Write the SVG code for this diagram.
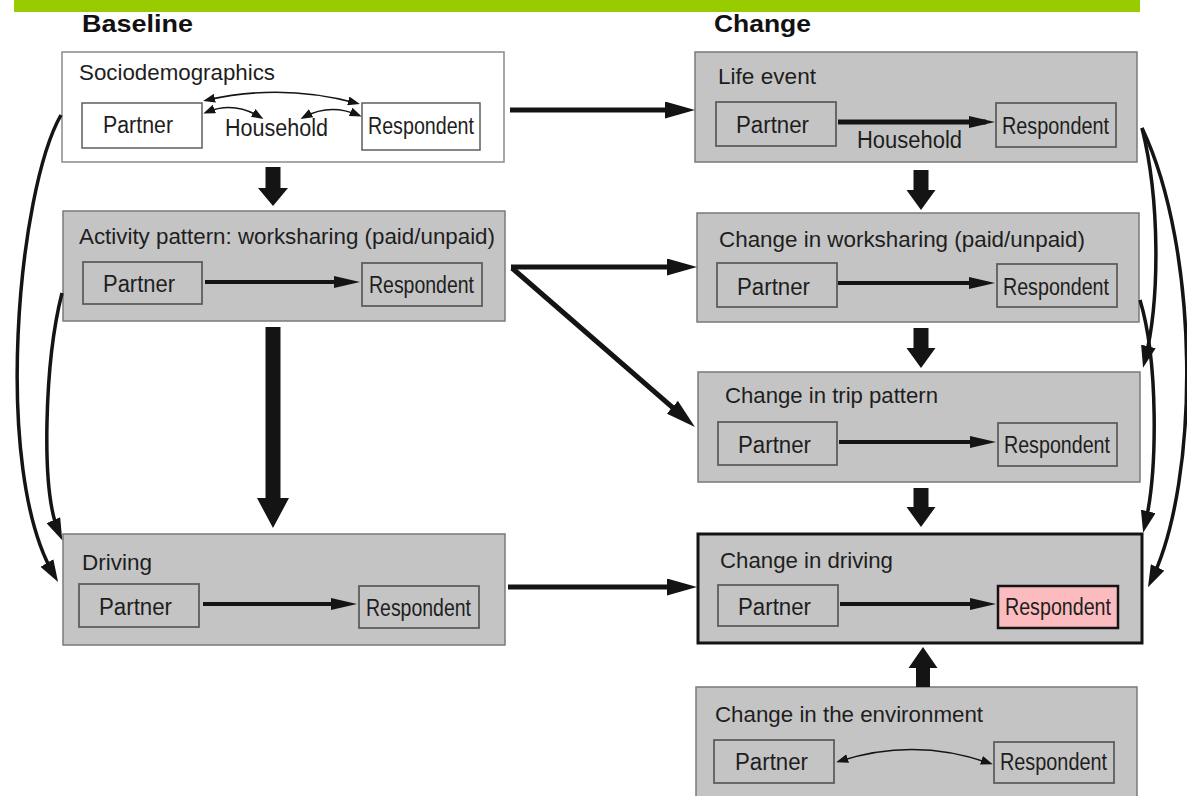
<svg xmlns="http://www.w3.org/2000/svg" width="1187" height="796" viewBox="0 0 1187 796">
  <style>
    text { font-family: "Liberation Sans", Arial, sans-serif; fill: #1e1e1e; }
    .head { font-size: 24px; font-weight: bold; fill: #111; }
    .title { font-size: 22px; }
    .lbl { font-size: 23px; }
    .panel { fill: #c4c4c4; stroke: #7a7a7a; stroke-width: 1.5; }
    .panel-white { fill: #ffffff; stroke: #8a8a8a; stroke-width: 1.5; }
    .panel-key { fill: #c4c4c4; stroke: #141414; stroke-width: 3; }
    .cell { fill: #c4c4c4; stroke: #5e5e5e; stroke-width: 1.8; }
    .cell-white { fill: #ffffff; stroke: #5e5e5e; stroke-width: 1.5; }
    .cell-key { fill: #fcbcbf; stroke: #141414; stroke-width: 2.5; }
    .thick { fill: none; stroke: #141414; stroke-width: 5; marker-end: url(#m-big); }
    .mid { fill: none; stroke: #141414; stroke-width: 4; marker-end: url(#m-mid); }
    .curve { fill: none; stroke: #141414; stroke-width: 3.5; marker-end: url(#m-curve); }
    .thin2 { fill: none; stroke: #141414; stroke-width: 1.6; marker-start: url(#m-small); marker-end: url(#m-small); }
    .block { fill: #141414; }
  </style>
  <defs>
    <marker id="m-big" markerUnits="userSpaceOnUse" markerWidth="30" markerHeight="17" refX="20" refY="8.5" orient="auto">
      <path d="M0,0 L30,8.5 L0,17 z" fill="#141414"/>
    </marker>
    <marker id="m-mid" markerUnits="userSpaceOnUse" markerWidth="26" markerHeight="12" refX="17" refY="6" orient="auto">
      <path d="M0,0 L26,6 L0,12 z" fill="#141414"/>
    </marker>
    <marker id="m-curve" markerUnits="userSpaceOnUse" markerWidth="22" markerHeight="15" refX="14" refY="7.5" orient="auto">
      <path d="M0,0 L22,7.5 L0,15 z" fill="#141414"/>
    </marker>
    <marker id="m-small" markerUnits="userSpaceOnUse" markerWidth="12" markerHeight="9" refX="8" refY="4.5" orient="auto-start-reverse">
      <path d="M0,0 L12,4.5 L0,9 z" fill="#141414"/>
    </marker>
  </defs>

  <rect width="1187" height="796" fill="#ffffff"/>
  <!-- header band -->
  <rect x="14" y="0" width="1126" height="12" fill="#99cc00"/>

  <text class="head" x="82" y="32" textLength="111" lengthAdjust="spacingAndGlyphs">Baseline</text>
  <text class="head" x="714" y="32" textLength="97" lengthAdjust="spacingAndGlyphs">Change</text>

  <!-- Baseline column -->
  <g id="sociodemographics">
    <rect class="panel-white" x="62" y="52" width="442" height="110"/>
    <text class="title" x="79" y="80" textLength="196" lengthAdjust="spacingAndGlyphs">Sociodemographics</text>
    <rect class="cell-white" x="82" y="103" width="120" height="45"/>
    <text class="lbl" x="103" y="133" textLength="70" lengthAdjust="spacingAndGlyphs">Partner</text>
    <rect class="cell-white" x="362" y="103" width="118" height="47"/>
    <text class="lbl" x="368" y="134" textLength="106" lengthAdjust="spacingAndGlyphs">Respondent</text>
    <text class="lbl" x="225" y="136" textLength="103" lengthAdjust="spacingAndGlyphs">Household</text>
    <path class="thin2" d="M207,100 Q282,83 356,103"/>
    <path class="thin2" d="M207,112 Q234,101 260,117"/>
    <path class="thin2" d="M304,117 Q330,103 358,115"/>
  </g>

  <g id="activity-pattern">
    <rect class="panel" x="63" y="211" width="442" height="110"/>
    <text class="title" x="79" y="244" textLength="416" lengthAdjust="spacingAndGlyphs">Activity pattern: worksharing (paid/unpaid)</text>
    <rect class="cell" x="83" y="262" width="119" height="42"/>
    <text class="lbl" x="103" y="292" textLength="72" lengthAdjust="spacingAndGlyphs">Partner</text>
    <rect class="cell" x="362" y="263" width="120" height="43"/>
    <text class="lbl" x="369" y="293" textLength="105" lengthAdjust="spacingAndGlyphs">Respondent</text>
    <path class="mid" d="M205,282 L351,282"/>
  </g>

  <g id="driving">
    <rect class="panel" x="63" y="534" width="442" height="111"/>
    <text class="title" x="82" y="570" textLength="70" lengthAdjust="spacingAndGlyphs">Driving</text>
    <rect class="cell" x="79" y="584" width="120" height="43"/>
    <text class="lbl" x="99" y="615" textLength="73" lengthAdjust="spacingAndGlyphs">Partner</text>
    <rect class="cell" x="359" y="586" width="120" height="42"/>
    <text class="lbl" x="366" y="616" textLength="105" lengthAdjust="spacingAndGlyphs">Respondent</text>
    <path class="mid" d="M203,604 L348,604"/>
  </g>

  <!-- Change column -->
  <g id="life-event">
    <rect class="panel" x="695" y="52" width="442" height="110"/>
    <text class="title" x="718" y="84" textLength="98" lengthAdjust="spacingAndGlyphs">Life event</text>
    <rect class="cell" x="716" y="102" width="120" height="44"/>
    <text class="lbl" x="736" y="133" textLength="73" lengthAdjust="spacingAndGlyphs">Partner</text>
    <rect class="cell" x="996" y="103" width="120" height="44"/>
    <text class="lbl" x="1002" y="134" textLength="107" lengthAdjust="spacingAndGlyphs">Respondent</text>
    <path class="mid" d="M838,122 L986,122" style="stroke-width:5"/>
    <text class="lbl" x="857" y="148" textLength="105" lengthAdjust="spacingAndGlyphs">Household</text>
  </g>

  <g id="change-worksharing">
    <rect class="panel" x="697" y="213" width="442" height="109"/>
    <text class="title" x="719" y="247" textLength="366" lengthAdjust="spacingAndGlyphs">Change in worksharing (paid/unpaid)</text>
    <rect class="cell" x="717" y="263" width="120" height="44"/>
    <text class="lbl" x="737" y="295" textLength="73" lengthAdjust="spacingAndGlyphs">Partner</text>
    <rect class="cell" x="997" y="264" width="120" height="43"/>
    <text class="lbl" x="1003" y="295" textLength="106" lengthAdjust="spacingAndGlyphs">Respondent</text>
    <path class="mid" d="M838,283 L986,283"/>
  </g>

  <g id="change-trip-pattern">
    <rect class="panel" x="698" y="372" width="442" height="110"/>
    <text class="title" x="725" y="403" textLength="213" lengthAdjust="spacingAndGlyphs">Change in trip pattern</text>
    <rect class="cell" x="718" y="422" width="119" height="43"/>
    <text class="lbl" x="738" y="453" textLength="73" lengthAdjust="spacingAndGlyphs">Partner</text>
    <rect class="cell" x="998" y="423" width="119" height="43"/>
    <text class="lbl" x="1004" y="453" textLength="106" lengthAdjust="spacingAndGlyphs">Respondent</text>
    <path class="mid" d="M839,442 L987,442"/>
  </g>

  <g id="change-driving">
    <rect class="panel-key" x="698" y="534" width="444" height="109"/>
    <text class="title" x="720" y="568" textLength="173" lengthAdjust="spacingAndGlyphs">Change in driving</text>
    <rect class="cell" x="718" y="585" width="120" height="41"/>
    <text class="lbl" x="738" y="615" textLength="73" lengthAdjust="spacingAndGlyphs">Partner</text>
    <rect class="cell-key" x="998" y="586" width="120" height="42"/>
    <text class="lbl" x="1005" y="615" textLength="106" lengthAdjust="spacingAndGlyphs">Respondent</text>
    <path class="mid" d="M840,604 L987,604"/>
  </g>

  <g id="change-environment">
    <rect class="panel" x="696" y="687" width="441" height="115"/>
    <text class="title" x="715" y="722" textLength="268" lengthAdjust="spacingAndGlyphs">Change in the environment</text>
    <rect class="cell" x="714" y="740" width="120" height="43"/>
    <text class="lbl" x="735" y="770" textLength="73" lengthAdjust="spacingAndGlyphs">Partner</text>
    <rect class="cell" x="994" y="742" width="120" height="41"/>
    <text class="lbl" x="1000" y="770" textLength="107" lengthAdjust="spacingAndGlyphs">Respondent</text>
    <path class="thin2" d="M840,761 Q915,737 989,763"/>
  </g>

  <!-- connectors between panels -->
  <g id="connectors">
    <!-- block arrows down the columns -->
    <polygon class="block" points="265.5,167 280.5,167 280.5,188 288,188 273,206 258,188 265.5,188"/>
    <polygon class="block" points="265.5,327 280.5,327 280.5,498 289,498 273,528 257,498 265.5,498"/>
    <polygon class="block" points="913.5,170 928.5,170 928.5,190 935.5,190 921,210 906.5,190 913.5,190"/>
    <polygon class="block" points="913.5,328 928.5,328 928.5,348 935.5,348 921,368 906.5,348 913.5,348"/>
    <polygon class="block" points="913.5,488 928.5,488 928.5,507 935.5,507 921,527 906.5,507 913.5,507"/>
    <polygon class="block" points="916,687 930,687 930,668 937.5,668 923,647 908.5,668 916,668"/>

    <!-- baseline to change -->
    <path class="thick" d="M510,110 L685,110"/>
    <path class="thick" d="M511,267 L687,267"/>
    <path class="thick" d="M512,268 L687.4,420.4"/>
    <path class="thick" d="M508,587 L687,587"/>

    <!-- left side curves -->
    <path class="curve" d="M61,115 C18,190 -8,470 54,575"/>
    <path class="curve" d="M62,293 C45,360 40,490 59,533"/>

    <!-- right side curves -->
    <path class="curve" d="M1142,128 C1200,250 1200,480 1151.5,580"/>
    <path class="curve" d="M1142,128 C1160,200 1160,300 1145,360"/>
    <path class="curve" d="M1140,300 C1158,360 1158,470 1145,525"/>
  </g>
</svg>
